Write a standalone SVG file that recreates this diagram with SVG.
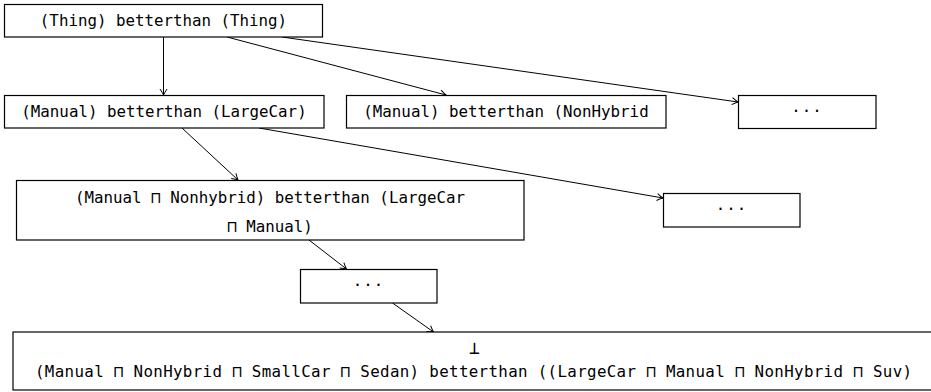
<svg xmlns="http://www.w3.org/2000/svg" width="931" height="392" viewBox="0 0 931 392">
<defs>
<marker id="arr" viewBox="-8 -5 10 10" refX="0" refY="0" markerWidth="10" markerHeight="10" markerUnits="userSpaceOnUse" orient="auto">
<path d="M-6,-3.5 Q-2,-0.8 0,0 Q-2,0.8 -6,3.5" fill="none" stroke="#000" stroke-width="1"/>
</marker>
<style>
rect{fill:#fff;stroke:#000;stroke-width:1.2}
text{font-family:"DejaVu Sans Mono","Liberation Mono",monospace;font-size:15.8px;fill:#000;text-anchor:middle}
.c line{stroke:#000;stroke-width:1;marker-end:url(#arr)}
.d{letter-spacing:1px}
</style>
</defs>
<rect x="0" y="0" width="931" height="392" style="fill:#fff;stroke:none"/>
<g class="c" id="connectors">
<line x1="163.5" y1="37" x2="163.5" y2="95"/>
<line x1="227" y1="37" x2="446" y2="95"/>
<line x1="282" y1="37" x2="738" y2="102"/>
<line x1="182" y1="128" x2="238" y2="180"/>
<line x1="259" y1="128" x2="663" y2="198"/>
<line x1="309" y1="240" x2="346.5" y2="269"/>
<line x1="392.5" y1="303" x2="433.5" y2="332"/>
</g>
<g id="n1"><rect x="4.5" y="4.5" width="318" height="32.5"/><text x="163.5" y="26">(Thing) betterthan (Thing)</text></g>
<g id="n2"><rect x="4.5" y="95.5" width="319.5" height="32.5"/><text x="164" y="117">(Manual) betterthan (LargeCar)</text></g>
<g id="n3"><rect x="346.5" y="95.5" width="319.5" height="32.5"/><text x="506" y="117">(Manual) betterthan (NonHybrid</text></g>
<g id="n4"><rect x="738.5" y="95.5" width="137.5" height="33"/><text class="d" x="807" y="116">···</text></g>
<g id="n5"><rect x="16.5" y="180.5" width="507.5" height="59.5"/><text x="270" y="203">(Manual ⊓ Nonhybrid) betterthan (LargeCar</text><text x="270" y="232">⊓ Manual)</text></g>
<g id="n6"><rect x="663.5" y="193.5" width="136.5" height="33.5"/><text class="d" x="731.5" y="214">···</text></g>
<g id="n7"><rect x="300.5" y="269.5" width="136.5" height="33.5"/><text class="d" x="368.5" y="290">···</text></g>
<g id="n8"><rect x="13" y="332" width="925" height="58"/><text x="474.5" y="354" style="font-size:18px">⊥</text><text x="473.5" y="377" textLength="877" lengthAdjust="spacing">(Manual ⊓ NonHybrid ⊓ SmallCar ⊓ Sedan) betterthan ((LargeCar ⊓ Manual ⊓ NonHybrid ⊓ Suv)</text></g>
</svg>
